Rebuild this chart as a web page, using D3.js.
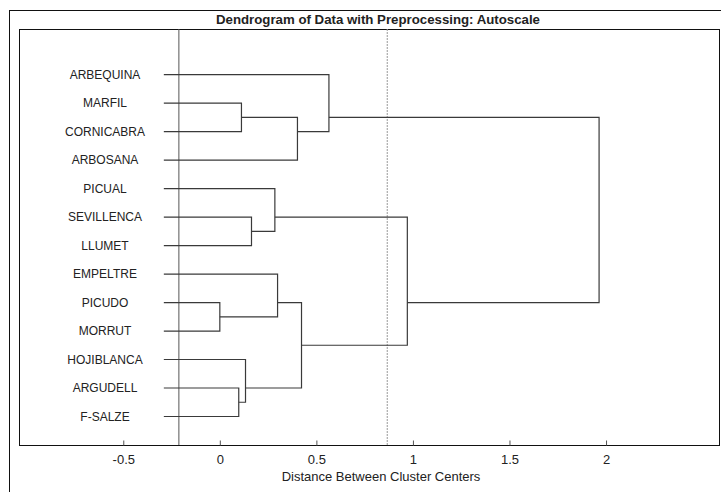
<!DOCTYPE html>
<html>
<head>
<meta charset="utf-8">
<script src="https://cdn.jsdelivr.net/npm/d3@7"></script>
<style>
  body { margin: 0; background: #fff; }
  svg { display: block; }
  text { font-family: "Liberation Sans", Arial, sans-serif; fill: #222; }
</style>
</head>
<body>
<div id="chart"></div>
<script>
// Chart Setup
const width = 721;
const height = 492;
const plot = { left: 19, right: 719, top: 29, bottom: 445 };

// Leaves (top to bottom)
const leaves = ["ARBEQUINA", "MARFIL", "CORNICABRA", "ARBOSANA", "PICUAL", "SEVILLENCA",
  "LLUMET", "EMPELTRE", "PICUDO", "MORRUT", "HOJIBLANCA", "ARGUDELL", "F-SALZE"];

// Linkage: ids < 13 are leaves, 13+ are earlier merges
const mergeA = [8, 11, 1, 10, 5, 4, 7, 15, 19, 0, 18, 22];
const mergeB = [9, 12, 2, 14, 6, 17, 13, 3, 16, 20, 21, 23];
const mergeDist = [0.0, 0.098, 0.112, 0.133, 0.164, 0.285, 0.299, 0.402, 0.423, 0.565, 0.971, 1.964];

const leafStart = -0.29;   // where leaf lines begin
const refLine = -0.212;    // solid reference line
const cutLine = 0.867;     // dotted cut-off line
const xTicks = [-0.5, 0, 0.5, 1, 1.5, 2];

const svg = d3.select("#chart").append("svg")
  .attr("width", width)
  .attr("height", height);

// Scales
const x = d3.scaleLinear().domain([-1.04, 2.585]).range([plot.left, plot.right]);
const y = d3.scaleLinear().domain([-1.6, 13]).range([plot.top, plot.bottom]);

// Outer frame
svg.append("rect")
  .attr("x", 9.5).attr("y", 10.5)
  .attr("width", 730).attr("height", 500)
  .attr("fill", "none").attr("stroke", "#111").attr("stroke-width", 1);

// Plot box
svg.append("rect")
  .attr("x", plot.left + 0.5).attr("y", plot.top + 0.5)
  .attr("width", plot.right - plot.left).attr("height", plot.bottom - plot.top)
  .attr("fill", "none").attr("stroke", "#111").attr("stroke-width", 1);

// Title
svg.append("text")
  .attr("x", 378).attr("y", 24)
  .attr("text-anchor", "middle")
  .attr("textLength", 324)
  .attr("lengthAdjust", "spacingAndGlyphs")
  .style("font-family", "'Liberation Sans Narrow', 'Liberation Sans', Arial, sans-serif")
  .style("font-weight", "bold")
  .style("font-size", "13px")
  .text("Dendrogram of Data with Preprocessing: Autoscale");

// Reference lines
svg.append("line")
  .attr("x1", x(refLine)).attr("x2", x(refLine))
  .attr("y1", plot.top).attr("y2", plot.bottom)
  .attr("stroke", "#555").attr("stroke-width", 1);

svg.append("line")
  .attr("x1", x(cutLine)).attr("x2", x(cutLine))
  .attr("y1", plot.top).attr("y2", plot.bottom)
  .attr("stroke", "#999").attr("stroke-width", 1)
  .attr("stroke-dasharray", "2,1");

// Build node positions
const nodeX = leaves.map(() => leafStart);
const nodeLeaves = leaves.map((d, i) => [i]);
mergeA.forEach((a, k) => {
  nodeX.push(mergeDist[k]);
  nodeLeaves.push(nodeLeaves[a].concat(nodeLeaves[mergeB[k]]));
});
const nodeY = nodeLeaves.map(ls => d3.mean(ls));

// Dendrogram links
const g = svg.append("g")
  .attr("fill", "none")
  .attr("stroke", "#3a3a3a")
  .attr("stroke-width", 1.2);

mergeA.forEach((a, k) => {
  const b = mergeB[k];
  const h = mergeDist[k];
  g.append("path")
    .attr("d", `M${x(nodeX[a])},${y(nodeY[a])}H${x(h)}V${y(nodeY[b])}H${x(nodeX[b])}`);
});

// Leaf labels
svg.append("g")
  .selectAll("text")
  .data(leaves)
  .enter().append("text")
  .attr("x", 105)
  .attr("y", (d, i) => y(i))
  .attr("dy", "0.35em")
  .attr("text-anchor", "middle")
  .style("font-size", "12px")
  .text(d => d);

// X axis (ticks point into the plot)
const xAxis = svg.append("g")
  .attr("transform", `translate(0,${plot.bottom + 0.5})`)
  .call(d3.axisBottom(x).tickValues(xTicks).tickSize(-5).tickPadding(9)
    .tickFormat(d => String(d)));
xAxis.select(".domain").remove();
xAxis.selectAll("line").attr("stroke", "#555");
xAxis.selectAll("text")
  .style("font-family", "'Liberation Sans', Arial, sans-serif")
  .style("font-size", "13px")
  .attr("fill", "#222");

// Axis title
svg.append("text")
  .attr("x", 381).attr("y", 481)
  .attr("text-anchor", "middle")
  .style("font-size", "13px")
  .text("Distance Between Cluster Centers");
</script>
</body>
</html>
